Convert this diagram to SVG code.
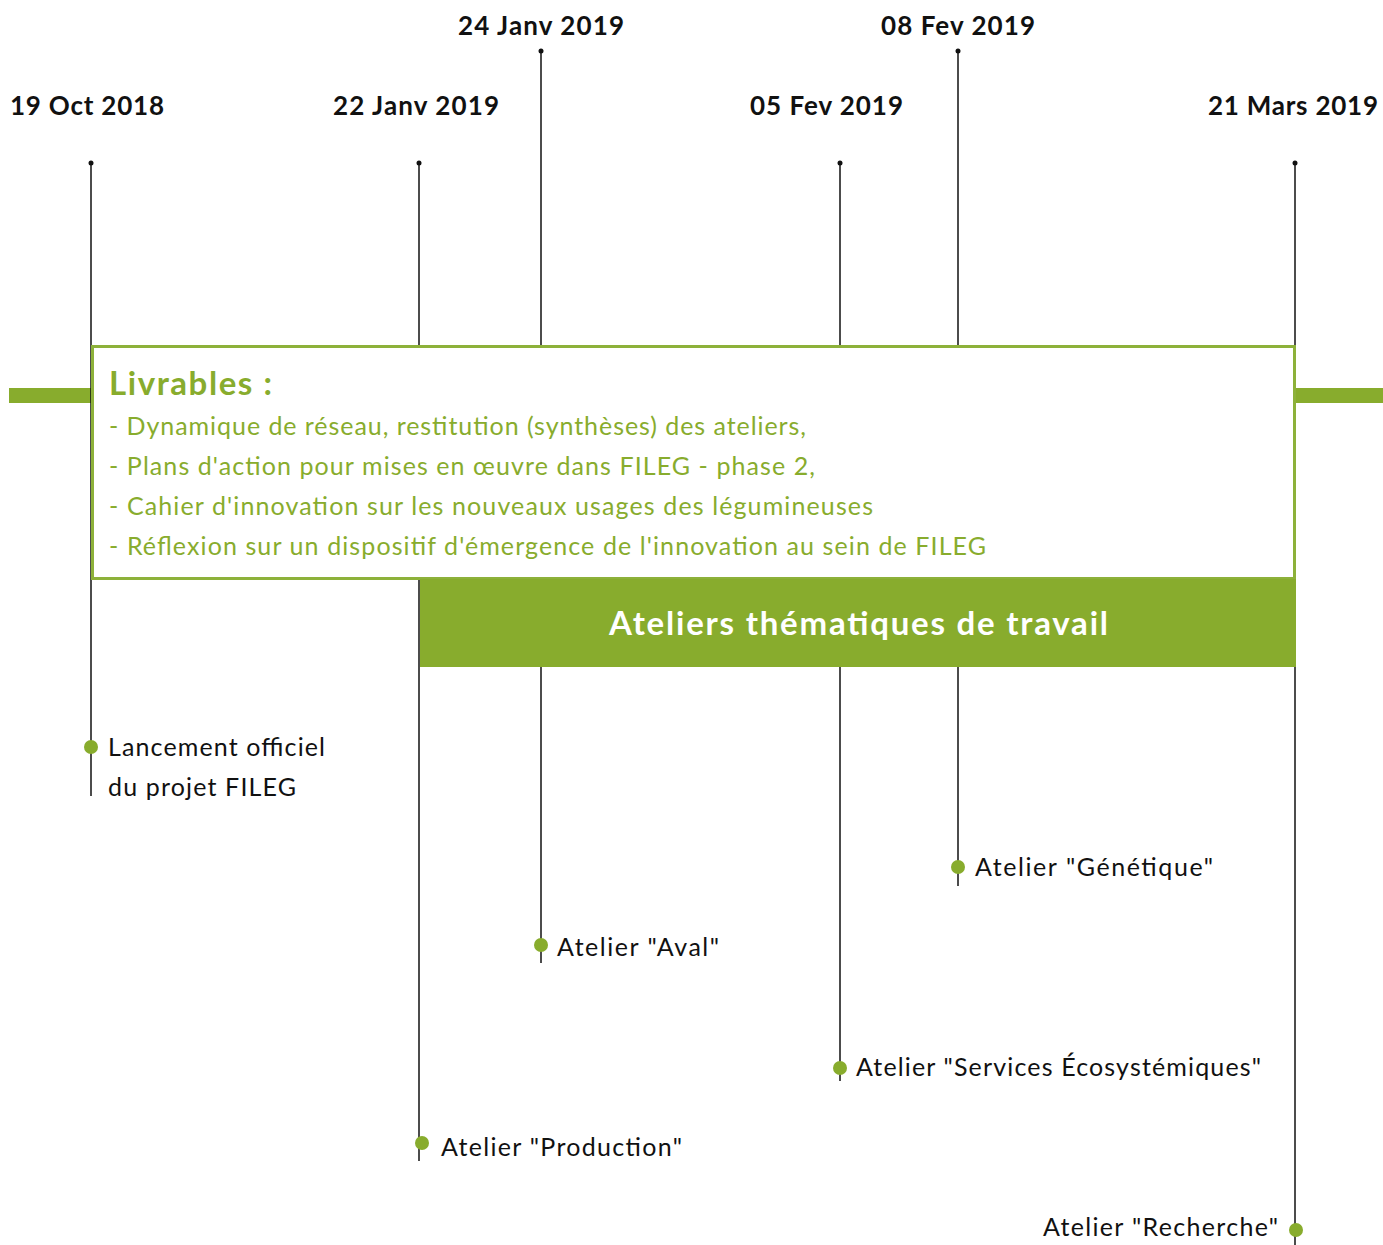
<svg xmlns="http://www.w3.org/2000/svg" width="1383" height="1245" viewBox="0 0 1383 1245">
<style>
.date{font-family:Lato,"Noto Sans",sans-serif;font-weight:700;font-size:26px;fill:#111}
.lbl{font-family:Lato,"Noto Sans",sans-serif;font-size:25px;fill:#111}
.liv{font-family:Lato,"Noto Sans",sans-serif;font-size:25px;fill:#88ac2d}
.vl{stroke:#111;stroke-width:1.5;fill:none}
.tip{fill:#111}
.gd{fill:#88ac2d}
</style>
<rect width="1383" height="1245" fill="#fff"/>
<g id="axis">
<rect x="9" y="388" width="84" height="15" fill="#88ac2d"/>
<rect x="1294" y="388" width="89" height="15" fill="#88ac2d"/>
</g>
<g id="connectors">
<line class="vl" x1="91" y1="163" x2="91" y2="796"/>
<line class="vl" x1="419" y1="163" x2="419" y2="1161"/>
<line class="vl" x1="541" y1="51" x2="541" y2="963"/>
<line class="vl" x1="840" y1="163" x2="840" y2="1081"/>
<line class="vl" x1="958" y1="51" x2="958" y2="886"/>
<line class="vl" x1="1295" y1="163" x2="1295" y2="1245"/>
<circle class="tip" cx="91" cy="163" r="2.5"/>
<circle class="tip" cx="419" cy="163" r="2.5"/>
<circle class="tip" cx="541" cy="51" r="2.5"/>
<circle class="tip" cx="840" cy="163" r="2.5"/>
<circle class="tip" cx="958" cy="51" r="2.5"/>
<circle class="tip" cx="1295" cy="163" r="2.5"/>
</g>
<g id="dates">
<text class="date" x="10" y="115" textLength="154" lengthAdjust="spacing">19 Oct 2018</text>
<text class="date" x="333" y="115" textLength="166" lengthAdjust="spacing">22 Janv 2019</text>
<text class="date" x="458" y="35" textLength="166" lengthAdjust="spacing">24 Janv 2019</text>
<text class="date" x="750" y="115" textLength="153" lengthAdjust="spacing">05 Fev 2019</text>
<text class="date" x="881" y="35" textLength="154" lengthAdjust="spacing">08 Fev 2019</text>
<text class="date" x="1208" y="115" textLength="170" lengthAdjust="spacing">21 Mars 2019</text>
</g>
<g id="livrables">
<rect x="92.5" y="346.5" width="1202" height="232" fill="#fff" stroke="#8db13a" stroke-width="3"/>
<text x="109" y="395" textLength="163" lengthAdjust="spacing" style="font-family:Lato,'Noto Sans',sans-serif;font-weight:700;font-size:33px;fill:#88ac2d">Livrables :</text>
<text class="liv" x="109" y="435" textLength="697" lengthAdjust="spacing">- Dynamique de réseau, restitution (synthèses) des ateliers,</text>
<text class="liv" x="109" y="475" textLength="706" lengthAdjust="spacing">- Plans d'action pour mises en œuvre dans FILEG - phase 2,</text>
<text class="liv" x="109" y="515" textLength="764" lengthAdjust="spacing">- Cahier d'innovation sur les nouveaux usages des légumineuses</text>
<text class="liv" x="109" y="555" textLength="877" lengthAdjust="spacing">- Réflexion sur un dispositif d'émergence de l'innovation au sein de FILEG</text>
</g>
<g id="ateliers">
<rect x="420" y="579" width="876" height="88" fill="#88ac2d"/>
<text x="609" y="635" textLength="499" lengthAdjust="spacing" style="font-family:Lato,'Noto Sans',sans-serif;font-weight:700;font-size:33px;fill:#fff">Ateliers thématiques de travail</text>
</g>
<g id="lancement">
<circle class="gd" cx="91" cy="747" r="7"/>
<text class="lbl" x="108" y="756" textLength="217" lengthAdjust="spacing">Lancement officiel</text>
<text class="lbl" x="108" y="796" textLength="188" lengthAdjust="spacing">du projet FILEG</text>
</g>
<g id="genetique">
<circle class="gd" cx="958" cy="867" r="7"/>
<text class="lbl" x="975" y="876" textLength="238" lengthAdjust="spacing">Atelier "Génétique"</text>
</g>
<g id="aval">
<circle class="gd" cx="541" cy="945" r="7"/>
<text class="lbl" x="557" y="956" textLength="162" lengthAdjust="spacing">Atelier "Aval"</text>
</g>
<g id="services">
<circle class="gd" cx="840" cy="1068" r="7"/>
<text class="lbl" x="856" y="1076" textLength="405" lengthAdjust="spacing">Atelier "Services Écosystémiques"</text>
</g>
<g id="production">
<circle class="gd" cx="422" cy="1143" r="7"/>
<text class="lbl" x="441" y="1156" textLength="241" lengthAdjust="spacing">Atelier "Production"</text>
</g>
<g id="recherche">
<circle class="gd" cx="1296" cy="1230" r="7"/>
<text class="lbl" x="1043" y="1236" textLength="235" lengthAdjust="spacing">Atelier "Recherche"</text>
</g>
</svg>
